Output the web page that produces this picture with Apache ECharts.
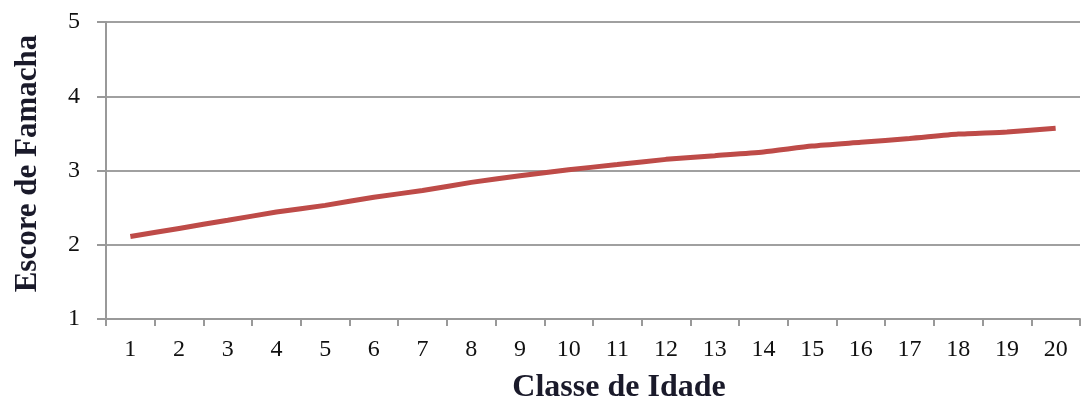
<!DOCTYPE html>
<html>
<head>
<meta charset="utf-8">
<script src="https://cdn.jsdelivr.net/npm/echarts@6/dist/echarts.min.js"></script>
<style>
  html, body { margin: 0; padding: 0; background: #fff; }
  #chart { width: 1082px; height: 403px; }
</style>
</head>
<body>
<div id="chart"></div>
<script>
// dados
var classes = ['1','2','3','4','5','6','7','8','9','10','11','12','13','14','15','16','17','18','19','20'];
var escore = [2.11, 2.22, 2.33, 2.44, 2.53, 2.64, 2.73, 2.84, 2.93, 3.01, 3.08, 3.15, 3.20, 3.25, 3.33, 3.38, 3.43, 3.49, 3.52, 3.57];
var yTicks = [1, 2, 3, 4, 5];

var serif = '"Liberation Serif", "DejaVu Serif", serif';

var myChart = echarts.init(document.getElementById('chart'));
var option = {
    animation: false,
    grid: { left: 106, right: 2, top: 22, bottom: 84, outerBoundsMode: 'none', containLabel: false },
    xAxis: {
        type: 'category',
        data: classes,
        boundaryGap: true,
        name: 'Classe de Idade',
        nameLocation: 'middle',
        nameGap: 53,
        nameTextStyle: { fontFamily: serif, fontWeight: 'bold', fontSize: 32, color: '#1a1a2a', padding: [0, 0, 0, 52] },
        axisLine: { lineStyle: { color: '#999', width: 2 } },
        axisTick: { show: true, alignWithLabel: false, length: 7, lineStyle: { color: '#999', width: 2 } },
        axisLabel: { fontFamily: serif, fontSize: 24, color: '#111', margin: 19 },
        splitLine: { show: false }
    },
    yAxis: {
        type: 'value',
        min: yTicks[0],
        max: yTicks[yTicks.length - 1],
        interval: 1,
        name: 'Escore de Famacha',
        nameLocation: 'middle',
        nameGap: 63,
        nameRotate: 90,
        nameTextStyle: { fontFamily: serif, fontWeight: 'bold', fontSize: 31, color: '#1a1a2a', padding: [0, 0, 0, 14] },
        axisLine: { show: true, lineStyle: { color: '#999', width: 2 } },
        axisTick: { show: true, length: 9, lineStyle: { color: '#999', width: 2 } },
        axisLabel: { fontFamily: serif, fontSize: 24, color: '#111', margin: 26 },
        splitLine: { show: true, lineStyle: { color: '#a0a0a0', width: 2 } }
    },
    series: [{
        type: 'line',
        data: escore,
        showSymbol: false,
        smooth: 0.2,
        lineStyle: { color: '#be4b48', width: 5 },
        itemStyle: { color: '#be4b48' }
    }]
};
myChart.setOption(option);
</script>
</body>
</html>
